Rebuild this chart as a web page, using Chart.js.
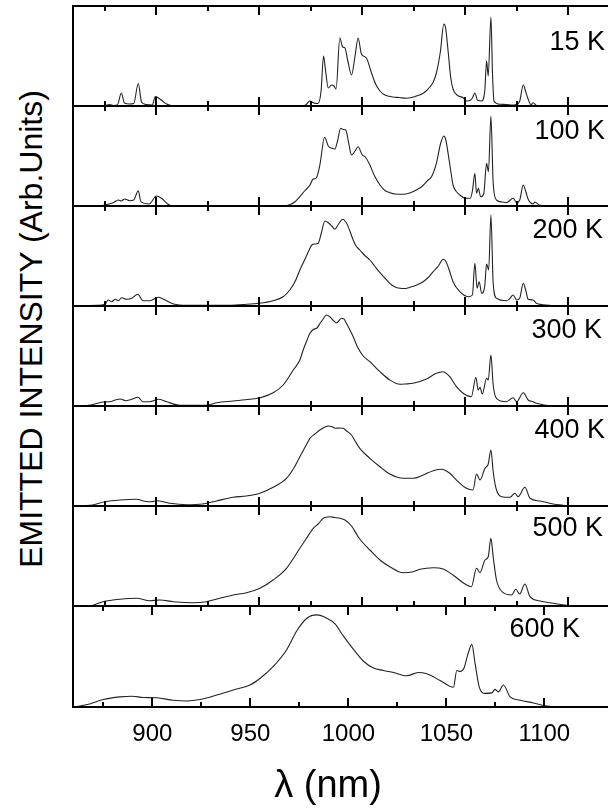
<!DOCTYPE html>
<html>
<head>
<meta charset="utf-8">
<script src="https://cdn.jsdelivr.net/npm/chart.js@4.4.1/dist/chart.umd.min.js"></script>
<style>
  html, body { margin: 0; padding: 0; background: #fff; }
  #fig { position: relative; width: 608px; height: 808px; overflow: hidden; }
  #fig canvas { position: absolute; }
  #ytitle {
    position: absolute; left: 31px; top: 329px;
    transform: translate(-50%, -50%) rotate(-90deg);
    white-space: nowrap; font: 32px 'Liberation Sans', Arial, sans-serif; color: #000;
  }
</style>
</head>
<body>
<div id="fig"><div id="ytitle">EMITTED INTENSITY (Arb.Units)</div></div>
<script>
// --- data: [wavelength nm, intensity arb.] ---
const temps = ['15 K', '100 K', '200 K', '300 K', '400 K', '500 K', '600 K'];

const spec15K = [[861,0],[872,0],[875,0.5],[877.5,1.5],[879,0.5],[881,1],[883,13],[884.5,3],[887,2],[889,2.5],[891.2,22.5],[892.8,4],[895,1.5],[898,1],[899.5,9.5],[901,8],[903,5],[905,2],[907.5,0.3],[912,0],[970,0],[972.5,1],[974.5,5],[976.5,3],[978.5,2.5],[980,15],[981.2,50],[982.2,35],[983.5,18],[985,21],[986.3,20],[987.3,17],[989.1,68],[990.5,59],[991.6,58],[993,45],[994.8,31],[996.5,50],[998,68],[999.6,52],[1002,48],[1004.5,33],[1006.5,22],[1008.6,15],[1011,11],[1015,9],[1018,8.5],[1021.5,7.7],[1024,8.5],[1026.4,10],[1029,12],[1031,15],[1032.8,19],[1034.5,24],[1036,33],[1038,55],[1039.6,82],[1040.5,78],[1041.7,55],[1043,28],[1044.1,17],[1046,11],[1049,8.3],[1050.6,5],[1052.5,5.7],[1053.5,8],[1054.7,13],[1056,5.7],[1058,5],[1059.5,15],[1060.4,45],[1061.2,30],[1062.5,89],[1063.3,30],[1064,5],[1066.8,1.7],[1070,1.5],[1073.3,1],[1075,1.5],[1076.5,5],[1078.2,21],[1079.3,15],[1080.6,6.7],[1082,1],[1083,3.3],[1085,0],[1090,0]];

const spec100K = [[861,0],[872,0],[875,1],[877,2],[879,3.3],[881.5,6],[883,5],[884.5,7],[887,5.3],[889,6],[891.2,15.3],[892.5,4.3],[896.5,2],[900,10],[902.5,7.7],[905.5,2],[908,0],[962,0],[965,1.5],[967.5,4.5],[969.7,9.3],[972,15],[974.6,21],[976,26.7],[977.8,28.5],[979.5,42],[981.7,68.7],[983.5,60],[985,58],[986.7,57],[988,65],[989.5,77.7],[990.8,76.5],[992,76],[993.5,62],[994.8,51],[996.5,55],[998,59.3],[1000,51],[1001.5,49],[1003.7,41],[1006,30],[1008.6,21],[1011,15.5],[1013.5,13.3],[1016,12],[1019.9,11.7],[1023,13],[1026.3,16],[1029,19.5],[1032,26],[1033.5,28.7],[1036,42.7],[1038,62],[1039.6,70],[1040.5,67],[1041.7,52.7],[1043,35],[1044.1,21],[1045.5,15],[1047.4,11],[1050,7.7],[1052.5,7.7],[1053.5,15],[1054.7,32.7],[1055.5,12.7],[1056.4,17.7],[1057.5,9.3],[1059,12],[1060.4,42.7],[1061.3,34.3],[1062.5,90],[1063.6,22.7],[1065.2,6],[1068,4],[1070,3.3],[1073.3,7.7],[1075,3.3],[1076.5,6],[1078.2,21],[1079.5,14],[1080.6,6.7],[1083,2],[1083.8,4],[1086,1],[1089.5,0],[1092,0]];

const spec200K = [[861,0],[871,0.7],[875,1.7],[876.6,6],[878.3,4.3],[880,6.7],[881.6,5.3],[883,8.3],[885.5,6.7],[888,7.7],[891,11.7],[893.5,5.3],[896.8,5.3],[901,8.7],[903.5,6.7],[908.3,2],[915,0.7],[934,0.7],[942,1.5],[950,2.7],[956.7,5.3],[961.6,9.3],[964.8,16],[967.5,25],[969.7,36],[972,46],[973.8,54.3],[975.5,61],[977,62],[978.6,62.7],[980,72],[981.9,85],[983.5,83.3],[985.2,80],[986.7,76.7],[988.5,82],[990.5,86.7],[992.4,82.7],[994,75],[995.4,67],[997,60],[998.8,56],[1001,51],[1003.7,46],[1006,40],[1008.6,33.3],[1011,28],[1013.4,22.7],[1015.5,19.5],[1018.3,17.7],[1021,17.5],[1023.2,18.7],[1026.5,21],[1029.6,24.3],[1032,28.5],[1034.5,34.3],[1037,40],[1039.3,46.7],[1040.5,45],[1041.7,39.3],[1043,31],[1044.1,24.3],[1047.4,14.3],[1051.4,9.3],[1053.5,11],[1054.7,42.7],[1055.8,17.7],[1056.8,24.3],[1058,12.7],[1059.5,20],[1060.4,42],[1061.4,36],[1062.5,91],[1063.6,22.7],[1065.2,7.7],[1070,5.3],[1071.5,7],[1073.3,11],[1075,6],[1076.5,8],[1078.2,22.7],[1079.5,15],[1080.6,6.7],[1083,6],[1084.6,2.7],[1091,0.7],[1094,0]];

const spec300K = [[861,0],[868,1],[875,4.3],[877.5,4.3],[880,6],[882.5,7],[885,5.3],[888,6.7],[891,8.7],[893.5,4.3],[896.8,4.3],[901,6.7],[905,4.3],[911.4,0.7],[924,0.7],[929.2,3.3],[937.3,5],[945.4,6.7],[950.3,8.3],[956.7,13.3],[961.6,21],[966.5,36],[969.7,46],[971.3,56],[973,65],[974.6,72.7],[976.2,76.5],[978,78],[979.5,82.7],[981,87],[982.6,91],[984.2,89.3],[986,85.5],[987.5,83],[989.9,87.7],[991,87.3],[992.3,82.7],[994,76],[995.6,69.3],[998,57.7],[1000.5,50],[1003.7,44.3],[1008.6,34.3],[1013.4,26],[1018.3,21.7],[1021,22],[1024.7,22.7],[1031.2,27],[1036,32.7],[1039.3,34.3],[1042.5,29.3],[1045.8,19.3],[1049,12.7],[1053,9.3],[1055.2,28.7],[1056.3,16],[1057.2,18.7],[1058.3,12],[1060.4,27.7],[1061.2,26],[1062.5,51],[1063.6,21],[1065.2,7.7],[1070,4.3],[1073.3,8.3],[1075,4.3],[1078.2,13.3],[1080.6,6],[1083,4.3],[1084.6,2.7],[1089.5,0.7],[1092,0]];

const spec400K = [[861,0],[868,0.7],[875,4.3],[882.3,6],[890.4,6.7],[895,4.5],[897.5,4.3],[900,5.3],[906.5,2.7],[914.6,1.3],[922.5,2],[929.2,5],[937.3,8.7],[943.8,10],[950.3,12.7],[956.7,18.7],[963.2,27.7],[966.5,37],[969.7,49.3],[972,58],[974.6,67.7],[977,72],[979.4,76],[981.5,78.5],[983.5,80],[985,79.5],[987,77.7],[989,78],[990.7,77.7],[992.4,75],[994.8,71],[996.5,65],[998.8,57.7],[1003.7,47.7],[1008.6,39.3],[1013.4,32],[1019.9,27.7],[1024.7,27.7],[1029.6,31],[1034.5,35.3],[1038.5,36.7],[1042.5,32.7],[1046.6,24.3],[1050.6,17.7],[1053.8,16],[1055.5,32],[1057.2,26],[1059.6,37.7],[1061.2,42],[1062.5,56],[1063.6,34.3],[1065.2,16],[1067.7,9.3],[1071.7,8.7],[1074.1,12.7],[1075.7,9.3],[1079,18.7],[1081.5,7.7],[1086.3,5],[1092.8,2],[1097.6,0.7],[1100,0]];

const spec500K = [[861,0],[867,0],[874,4.3],[882.3,6.7],[890.4,7.7],[896.8,5.3],[901.7,6],[908.3,4.3],[917.9,3.3],[924.3,4.3],[930.8,7.7],[937.3,11],[943.8,13.3],[950.3,17.7],[956.7,26],[963.2,37.7],[969.7,57.7],[973,68],[976.2,77.7],[978.6,82],[981,87.7],[984.2,89.3],[986.5,88.5],[989.2,87.7],[991.6,86],[994.8,80],[998,69.3],[1000,64],[1003.7,56],[1008.6,46],[1013.4,39.3],[1019.9,33.3],[1024.7,34.3],[1028,36.7],[1034.5,38.3],[1039.3,37],[1044.1,31],[1049,23.3],[1053,19.3],[1055.5,37.7],[1057.2,33.3],[1059.6,46],[1061.2,49.3],[1062.5,67.7],[1063.6,49.3],[1065.2,26],[1068.5,13.3],[1072.5,11],[1074.6,16.7],[1076.5,12],[1079,22],[1081.5,9.3],[1086.3,5],[1092.8,2.7],[1099.2,0.7],[1102,0]];

const spec600K = [[861.4,0.5],[868,3],[875,7.4],[883.5,10],[889.5,10.7],[895.4,9.4],[902.2,9.1],[910.7,6.7],[917.5,6],[924.3,7.4],[932.8,11.8],[941.3,16.8],[949.8,21.8],[955,28.5],[961.7,40.2],[968.6,57],[973.7,75.5],[978.8,87.9],[983.9,91.2],[989,87.9],[993.2,82.2],[997.4,70.4],[1002.6,57],[1007.7,45.3],[1012.8,38.6],[1017.9,36.2],[1023,34.2],[1029.8,30.9],[1035.7,34.2],[1040,32.9],[1046.8,26.2],[1053.6,19.5],[1055.3,36.2],[1057,35.2],[1059,38.6],[1060.7,50.3],[1063,62],[1064.6,43.6],[1066.8,19.5],[1069.7,13.5],[1073.2,14],[1074.8,17.5],[1076.5,15],[1079.1,21.8],[1082.5,10],[1087.6,6.7],[1094.4,4],[1101.2,1],[1106.3,0]];

const spectra = [spec15K, spec100K, spec200K, spec300K, spec400K, spec500K, spec600K];
const majorTicks = [900, 950, 1000, 1050, 1100];
const minorTicks = [875, 925, 975, 1025, 1075];

// --- layout ---
const FONT = "'Liberation Sans', Arial, sans-serif";
const panelEdges = [6, 106, 206, 306, 406, 506, 606, 707];
const canvasLeft = 71;
const plotWidth = 540;
const xMin = 859.5;
const xMaxUpper = 1121.8;   // upper six panels share one scale
const xMaxBottom = 1135;    // the 600 K panel is slightly compressed
const axisH = 40;           // room under the last panel for tick labels
const labelRight = [605, 605, 603, 602, 605, 603, 580];
const labelDy = [37, 26, 25, 25, 25, 23, 24];

const framePlugin = {
  id: 'frame',
  afterDatasetsDraw(chart, args, opts) {
    const { ctx, chartArea: a } = chart;
    const x = chart.scales.x;
    ctx.save();
    ctx.strokeStyle = '#000';
    ctx.lineWidth = 2;
    ctx.beginPath();
    ctx.moveTo(a.left - 1, a.top); ctx.lineTo(a.right, a.top);
    ctx.moveTo(a.left - 1, a.bottom); ctx.lineTo(a.right, a.bottom);
    ctx.moveTo(a.left, a.top); ctx.lineTo(a.left, a.bottom);
    [[majorTicks, 9], [minorTicks, 5]].forEach(([vals, len]) => {
      vals.forEach(v => {
        const px = Math.round(x.getPixelForValue(v));
        ctx.moveTo(px, a.top); ctx.lineTo(px, a.top + len);
        ctx.moveTo(px, a.bottom); ctx.lineTo(px, a.bottom - len);
      });
    });
    ctx.stroke();

    ctx.fillStyle = '#000';
    ctx.textBaseline = 'middle';
    ctx.textAlign = 'right';
    ctx.font = '27px ' + FONT;
    ctx.fillText(opts.label, opts.labelX, a.top + opts.labelDy);

    if (opts.xTitle) {
      ctx.textAlign = 'center';
      ctx.font = '38px ' + FONT;
      ctx.fillText(opts.xTitle, 328 - canvasLeft, a.bottom + 80);
    }
    ctx.restore();
  }
};

const fig = document.getElementById('fig');

spectra.forEach((data, i) => {
  const last = i === spectra.length - 1;
  const top = panelEdges[i];
  const h = panelEdges[i + 1] - top;
  const cvTop = top - 2;
  const cvH = last ? 808 - cvTop : h + 4;

  const cv = document.createElement('canvas');
  cv.width = 2 + plotWidth + 4;
  cv.height = cvH;
  cv.style.left = canvasLeft + 'px';
  cv.style.top = cvTop + 'px';
  fig.appendChild(cv);

  const xScale = {
    type: 'linear',
    min: xMin,
    max: last ? xMaxBottom : xMaxUpper,
    display: last,
    grid: { display: false, drawTicks: false },
    border: { display: false },
    afterBuildTicks: s => { s.ticks = majorTicks.map(v => ({ value: v })); },
    afterFit: s => { if (last) s.height = axisH; },
    ticks: {
      color: '#000',
      font: { family: FONT, size: 24 },
      padding: 13,
      autoSkip: false,
      maxRotation: 0,
      callback: v => String(v)
    }
  };

  new Chart(cv, {
    type: 'line',
    data: {
      datasets: [{
        label: temps[i],
        data: data.map(p => ({ x: p[0], y: p[1] })),
        borderColor: '#222',
        borderWidth: 1.1,
        pointRadius: 0,
        cubicInterpolationMode: 'monotone',
        fill: false
      }]
    },
    options: {
      responsive: false,
      animation: false,
      events: [],
      layout: {
        padding: { left: 2, right: 4, top: 2, bottom: last ? cvH - 2 - h - axisH : 2 }
      },
      scales: {
        x: xScale,
        y: { min: 0, max: 100, display: false }
      },
      plugins: {
        legend: { display: false },
        tooltip: { enabled: false },
        frame: {
          label: temps[i],
          labelX: labelRight[i] - canvasLeft,
          labelDy: labelDy[i],
          xTitle: last ? 'λ (nm)' : null
        }
      }
    },
    plugins: [framePlugin]
  });
});
</script>
</body>
</html>
